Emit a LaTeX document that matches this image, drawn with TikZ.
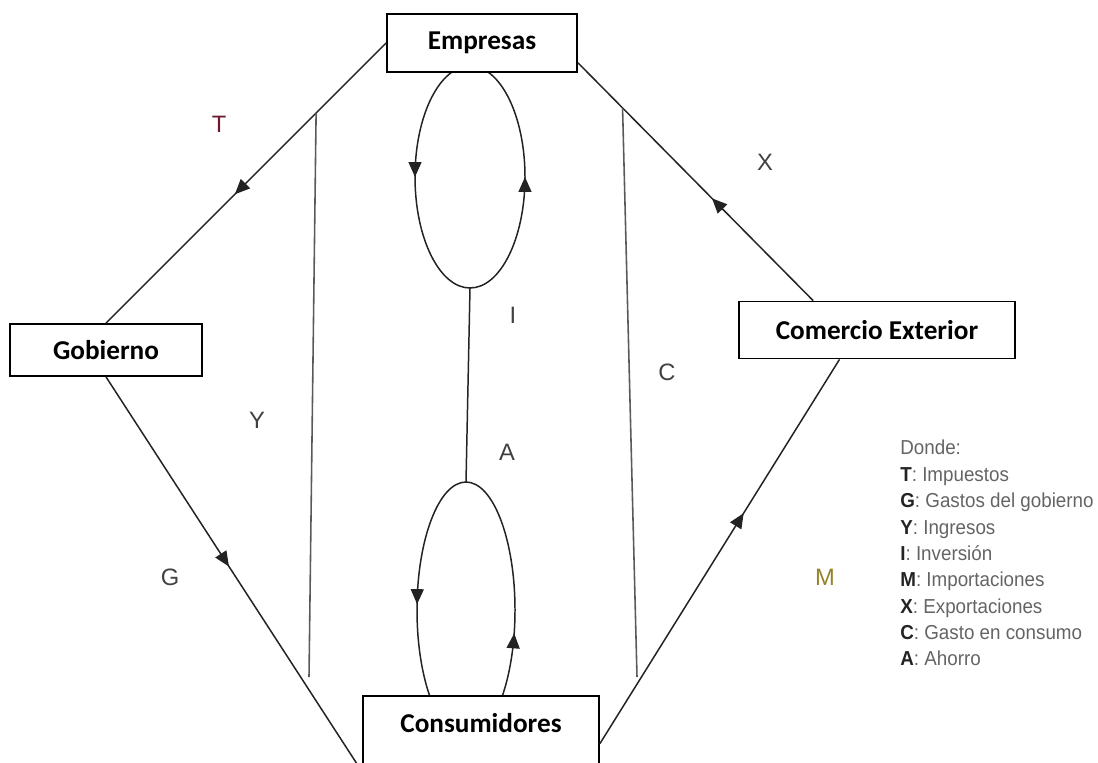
\documentclass[tikz,border=0pt]{standalone}
\usepackage{fontspec}
\setmainfont{Carlito}
\newfontfamily\letrafont{Liberation Sans}
\newfontfamily\notafont[FakeStretch=0.93]{Liberation Sans}
\usetikzlibrary{arrows.meta,calc,decorations.markings}
\definecolor{inkgrey}{RGB}{35,35,35}
\definecolor{linegrey}{RGB}{90,90,90}
\definecolor{textgrey}{RGB}{65,65,65}
\definecolor{legendgrey}{RGB}{100,100,100}
\definecolor{maroonT}{RGB}{110,25,45}
\definecolor{oliveM}{RGB}{150,130,40}
\newcommand{\clave}[1]{\textcolor{inkgrey}{\textbf{#1}}:}
\tikzset{
  flowtip/.tip={Triangle[length=0.3cm,width=0.26cm]},
  box/.style={rectangle, draw=black, fill=white, line width=1pt, font=\fontsize{15.5}{18}\selectfont\bfseries, text=black},
  wire/.style={line width=0.85pt, draw=inkgrey},
  flow/.style={wire, postaction={decorate}, decoration={markings, mark=at position #1 with {\arrow{flowtip}}}},
  ovalflow/.style 2 args={wire, postaction={decorate}, decoration={markings, mark=at position #1 with {\arrow{flowtip}}, mark=at position #2 with {\arrow{flowtip}}}},
  vline/.style={line width=0.9pt, draw=linegrey},
  lbl/.style={font=\letrafont\fontsize{13.5}{15}\selectfont, text=textgrey, inner sep=0pt},
  legend/.style={font=\notafont\fontsize{11.5}{15}\selectfont, text=legendgrey, align=left, inner sep=0pt},
}

\begin{document}
\begin{tikzpicture}[x=0.02cm,y=0.02cm]
  \clip (0,0) rectangle (1098,762);
  % inner loops (under the boxes)
  \draw[ovalflow={0.25}{0.75}] (470,696) arc[start angle=90, end angle=450, x radius=55, y radius=111];
  \draw[ovalflow={0.24}{0.71}] (466,280) arc[start angle=90, end angle=450, x radius=49, y radius=128];
  \coordinate (ovalE) at (470,474);
  \coordinate (ovalA) at (466,280);
  \draw[wire] (ovalE) -- (ovalA);

  % sectors
  \node[box, minimum width=3.8cm, minimum height=1.16cm] (empresas) at (482,719) {Empresas};
  \node[box, minimum width=3.84cm, minimum height=1.04cm] (gobierno) at (106,412) {Gobierno};
  \node[box, minimum width=5.52cm, minimum height=1.14cm] (comercio) at (877,432) {Comercio Exterior};
  \node[box, anchor=north, minimum width=4.72cm, inner ysep=0.2cm, text height=0.53cm, text depth=1.2cm] (consumidores) at (481,67) {Consumidores};

  \path ($(empresas.north east)!0.83!(empresas.south east)$) coordinate (eE);
  \path ($(comercio.north west)!0.27!(comercio.north east)$) coordinate (cN);
  \path ($(comercio.south west)!0.365!(comercio.south east)$) coordinate (cS);
  \path ($(consumidores.north west)!0.71!(consumidores.south west)$) coordinate (kW);
  \path ($(consumidores.north east)!0.45!(consumidores.south east)$) coordinate (kE);
  \coordinate (yfoot) at (309,85);
  \coordinate (cfoot) at (637,85);

  % flows
  \draw[flow=0.54] (empresas.west) -- (gobierno.north);
  \draw[flow=0.48] (gobierno.south) -- (kW);
  \draw[flow=0.43] (cN) -- (eE);
  \draw[flow=0.60] (kE) -- (cS);
  \draw[vline] ($(empresas.west)!0.25!(gobierno.north)$) -- (yfoot);
  \draw[vline] ($(eE)!0.19!(cN)$) -- (cfoot);

  % letters
  \node[lbl, text=maroonT] (lT) at (219,638) {T};
  \node[lbl] (lX) at (765,600) {X};
  \node[lbl] (lI) at (513,447) {I};
  \node[lbl] (lC) at (667,390) {C};
  \node[lbl] (lY) at (257,342) {Y};
  \node[lbl] (lA) at (507,310) {A};
  \node[lbl] (lG) at (170,185) {G};
  \node[lbl, text=oliveM] (lM) at (825,185) {M};

  \node[legend, anchor=north west] (leyenda) at (900,322) {Donde:\\
    \clave{T} Impuestos\\
    \clave{G} Gastos del gobierno\\
    \clave{Y} Ingresos\\
    \clave{I} Inversión\\
    \clave{M} Importaciones\\
    \clave{X} Exportaciones\\
    \clave{C} Gasto en consumo\\
    \clave{A} Ahorro};
\end{tikzpicture}
\end{document}
